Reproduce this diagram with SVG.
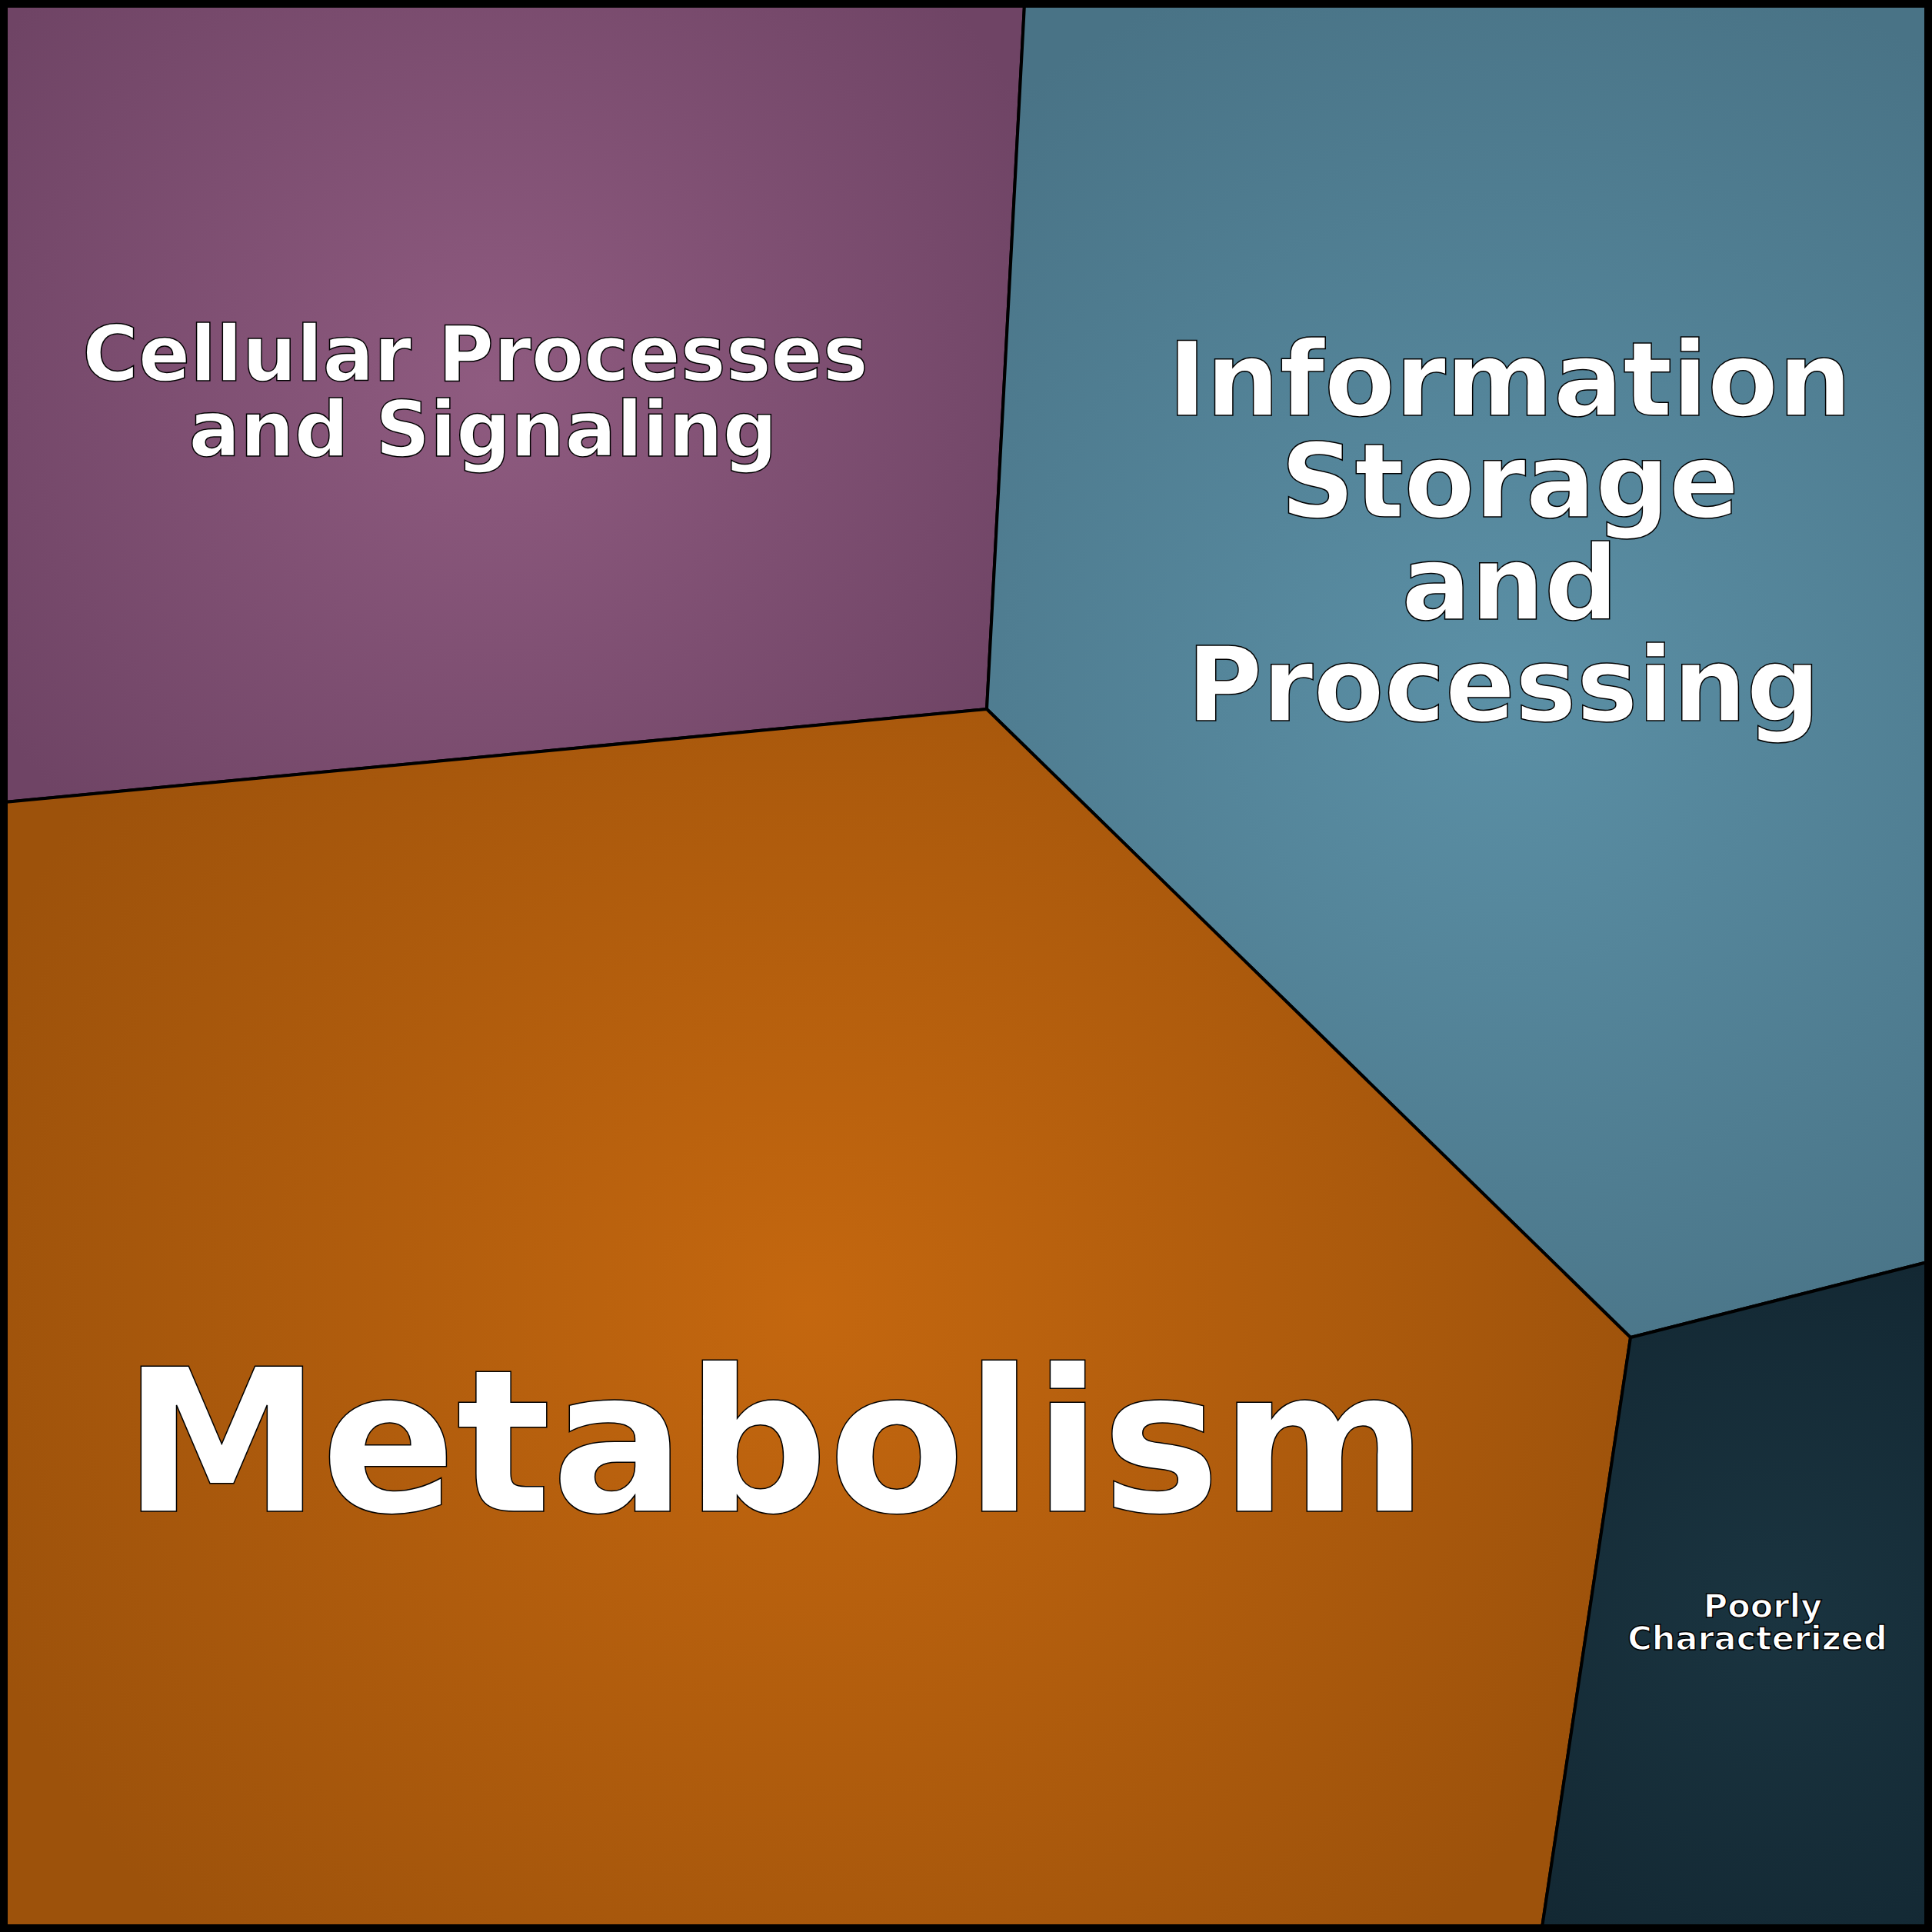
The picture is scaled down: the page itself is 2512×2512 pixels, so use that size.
<svg xmlns="http://www.w3.org/2000/svg" width="2512" height="2512" viewBox="0 0 2512 2512">
<defs>
<radialGradient id="gp" gradientUnits="userSpaceOnUse" cx="640" cy="500" r="780"><stop offset="0" stop-color="#8f5b80"/><stop offset="1" stop-color="#6f4465"/></radialGradient>
<radialGradient id="gb" gradientUnits="userSpaceOnUse" cx="1950" cy="900" r="1000"><stop offset="0" stop-color="#5b90a6"/><stop offset="1" stop-color="#497386"/></radialGradient>
<radialGradient id="go" gradientUnits="userSpaceOnUse" cx="1050" cy="1700" r="1150"><stop offset="0" stop-color="#c4670f"/><stop offset="1" stop-color="#9d520b"/></radialGradient>
<radialGradient id="gd" gradientUnits="userSpaceOnUse" cx="2300" cy="2100" r="500"><stop offset="0" stop-color="#1a3440"/><stop offset="1" stop-color="#132833"/></radialGradient>
<style>
.c{stroke:#000;stroke-width:4;stroke-linejoin:round}
.t{font-family:"DejaVu Sans",sans-serif;font-weight:bold;fill:#fff;stroke:#000;stroke-width:1.5;text-anchor:middle}
</style>
</defs>
<g id="purple"><polygon class="c" fill="url(#gp)" points="6,6 1332,6 1283,922 6,1043"/>
<text class="t" font-size="99"><tspan x="618" y="495">Cellular Processes</tspan><tspan x="628" y="593">and Signaling</tspan></text></g>
<g id="blue"><polygon class="c" fill="url(#gb)" points="1332,6 2506,6 2506,1641 2120,1739 1283,922"/>
<text class="t" font-size="134"><tspan x="1963" y="540">Information</tspan><tspan x="1963" y="672">Storage</tspan><tspan x="1963" y="805">and</tspan><tspan x="1955" y="937">Processing</tspan></text></g>
<g id="orange"><polygon class="c" fill="url(#go)" points="6,1043 1283,922 2120,1739 2005,2506 6,2506"/>
<text class="t" font-size="259" x="1008" y="1965">Metabolism</text></g>
<g id="dark"><polygon class="c" fill="url(#gd)" points="2120,1739 2506,1641 2506,2506 2005,2506"/>
<text class="t" font-size="43" stroke-width="0.8"><tspan x="2292" y="2103">Poorly</tspan><tspan x="2285" y="2145">Characterized</tspan></text></g>
<g id="connectors"/>
<rect x="5" y="5" width="2502" height="2502" fill="none" stroke="#000" stroke-width="10"/>
</svg>
